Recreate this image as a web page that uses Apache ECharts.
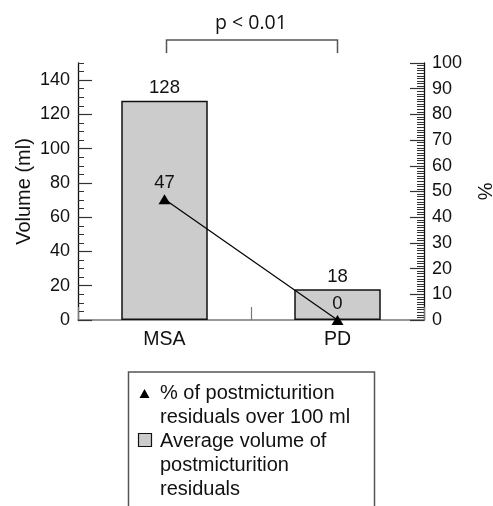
<!DOCTYPE html>
<html>
<head>
<meta charset="utf-8">
<script src="https://cdn.jsdelivr.net/npm/echarts@6/dist/echarts.min.js"></script>
<style>html,body{margin:0;padding:0;background:#fff;}#c{width:493px;height:506px;}</style>
</head>
<body>
<div id="c"></div>
<script>
var categories = ['MSA', 'PD'];
var volumeValues = [128, 18];
var percentValues = [47, 0];
var leftTickLabels = [0, 20, 40, 60, 80, 100, 120, 140];
var rightTickLabels = [0, 10, 20, 30, 40, 50, 60, 70, 80, 90, 100];
var titleText = 'p < 0.01';
var legendLines1 = ['% of postmicturition', 'residuals over 100 ml'];
var legendLines2 = ['Average volume of', 'postmicturition', 'residuals'];

var FONT = 'Liberation Sans, Arial, sans-serif';
var chart = echarts.init(document.getElementById('c'), null, {renderer: 'canvas'});

var option = {
  animation: false,
  backgroundColor: '#fff',
  textStyle: {fontFamily: FONT},
  grid: {left: 78, right: 69, top: 63, bottom: 186, containLabel: false, outerBoundsMode: 'none'},
  xAxis: [{
    type: 'category',
    data: categories,
    axisLine: {lineStyle: {color: '#777', width: 1.5}},
    axisTick: {show: true, inside: true, length: 13, lineStyle: {color: '#777', width: 1.2}},
    axisLabel: {color: '#111', fontSize: 19.5, fontFamily: FONT, margin: 10},
    splitLine: {show: false}
  }],
  yAxis: [{
    type: 'value', position: 'left', min: 0, max: 150, interval: 5,
    name: 'Volume (ml)', nameLocation: 'middle', nameGap: 44,
    nameTextStyle: {fontSize: 20, color: '#111', fontFamily: FONT},
    axisLine: {show: true, lineStyle: {color: '#111', width: 1.3}},
    axisTick: {show: true, inside: true, length: 6, lineStyle: {color: '#333', width: 1}},
    axisLabel: {show: false},
    splitLine: {show: false}
  }, {
    type: 'value', position: 'left', min: 0, max: 150, interval: 20,
    axisLine: {show: false},
    axisTick: {show: true, inside: true, length: 14, customValues: leftTickLabels, lineStyle: {color: '#333', width: 1.2}},
    axisLabel: {show: true, customValues: leftTickLabels, color: '#111', fontSize: 18, fontFamily: FONT, margin: 8,
      formatter: function (v) { return leftTickLabels.indexOf(v) >= 0 ? String(v) : ''; }},
    splitLine: {show: false}
  }, {
    type: 'value', position: 'right', min: 0, max: 100, interval: 10,
    name: '%', nameLocation: 'middle', nameGap: 50, nameRotate: -90,
    nameTextStyle: {fontSize: 20, color: '#111', fontFamily: FONT},
    axisLine: {show: true, lineStyle: {color: '#111', width: 1.3}},
    axisTick: {show: true, inside: true, length: 14, lineStyle: {color: '#333', width: 1.2}},
    minorTick: {show: true, splitNumber: 10, length: 7, lineStyle: {color: '#333', width: 1}},
    axisLabel: {color: '#111', fontSize: 18, fontFamily: FONT, margin: 8,
      formatter: function (v) { return rightTickLabels.indexOf(v) >= 0 ? String(v) : ''; }},
    splitLine: {show: false}
  }],
  series: [{
    type: 'bar',
    name: 'Average volume of postmicturition residuals',
    data: volumeValues,
    xAxisIndex: 0, yAxisIndex: 0,
    barWidth: '50%',
    itemStyle: {color: '#cccccc', borderColor: '#111', borderWidth: 1.5},
    label: {show: true, position: 'top', distance: 3, color: '#111', fontSize: 18.5, fontFamily: FONT},
    z: 2
  }, {
    type: 'line',
    name: '% of postmicturition residuals over 100 ml',
    data: percentValues,
    xAxisIndex: 0, yAxisIndex: 2,
    symbol: 'triangle', symbolSize: [12, 10],
    itemStyle: {color: '#000'},
    lineStyle: {color: '#000', width: 1.2},
    label: {show: true, position: 'top', distance: 2, color: '#111', fontSize: 18.5, fontFamily: FONT},
    clip: false,
    z: 5
  }]
};
chart.setOption(option);

// bracket and title, positioned from the category centers
var p0 = chart.convertToPixel({xAxisIndex: 0}, categories[0]);
var p1 = chart.convertToPixel({xAxisIndex: 0}, categories[1]);
var yTop = 40, yEnd = 53;
var gfx = [
  {type: 'polyline', shape: {points: [[p0 + 2, yEnd], [p0 + 2, yTop], [p1, yTop], [p1, yEnd]]},
   style: {stroke: '#555', lineWidth: 1.5, fill: null}, silent: true},
  {type: 'text', x: (p0 + p1) / 2, y: 23,
   style: {text: titleText, fontSize: 19.5, fontFamily: 'Open Sans, Noto Sans, sans-serif', fill: '#111',
           align: 'center', verticalAlign: 'middle'}}
];
// legend box (open at the bottom)
var bx0 = 128.5, bx1 = 374.5, by0 = 372;
gfx.push({type: 'polyline', shape: {points: [[bx0, 520], [bx0, by0], [bx1, by0], [bx1, 520]]},
  style: {stroke: '#555', lineWidth: 1.5, fill: null}, silent: true});
gfx.push({type: 'polygon', shape: {points: [[144.5, 389], [149.5, 398], [139.5, 398]]}, style: {fill: '#000'}});
gfx.push({type: 'rect', shape: {x: 138.5, y: 433.5, width: 13, height: 13}, style: {fill: '#cccccc', stroke: '#111', lineWidth: 1.2}});
var lh = 24.2, tx = 160, ty = 393;
legendLines1.concat(legendLines2).forEach(function (s, i) {
  gfx.push({type: 'text', x: tx, y: ty + i * lh,
    style: {text: s, fontSize: 20, fontFamily: FONT, fill: '#111', align: 'left', verticalAlign: 'middle'}});
});
chart.setOption({graphic: gfx});
</script>
</body>
</html>
